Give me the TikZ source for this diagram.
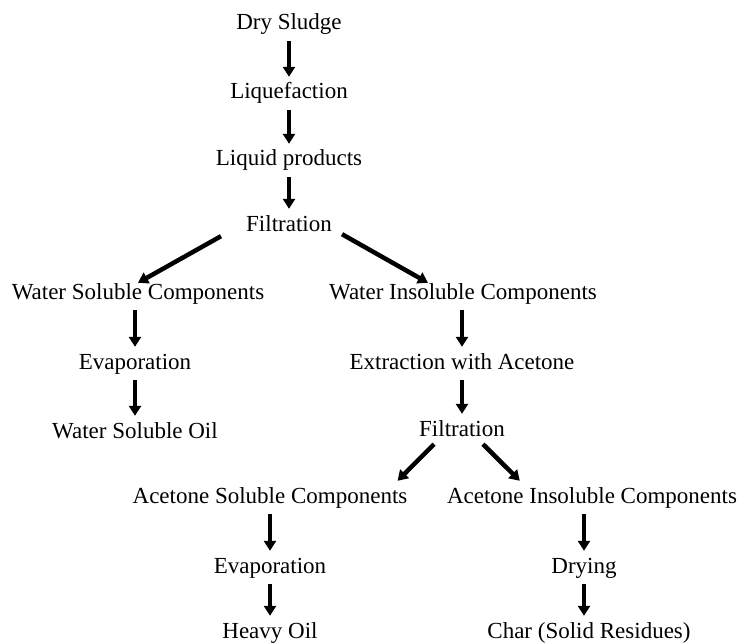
\documentclass[tikz,border=0pt]{standalone}
\usepackage{fontspec}
\setmainfont{Liberation Serif}
\usetikzlibrary{arrows.meta, positioning, calc}

\begin{document}
\begin{tikzpicture}[x=1pt, y=-1pt, >={Triangle[width=12pt,length=10pt]},
    stage/.style={anchor=base, inner sep=0pt, text height=16pt, text depth=5pt,
                  font=\fontsize{23}{27}\selectfont},
    flow/.style={->, line width=4.5pt, shorten <=6pt, shorten >=6pt},
    slant/.style={->, line width=4.5pt}]
        \useasboundingbox (0,0) rectangle (743,644);

        % Main line
        \node [stage] (sludge) at (289,30) {Dry Sludge};
        \node [stage] (liq) at (289,99) {Liquefaction};
        \node [stage] (prod) at (289,166) {Liquid products};
        \node [stage] (filt) at (289,231) {Filtration};

        % Water soluble branch
        \node [stage] (wsc) at (138,299) {Water Soluble Components};
        \node [stage] (evapA) at (135,369) {Evaporation};
        \node [stage] (oil) at (135,438) {Water Soluble Oil};

        % Water insoluble branch
        \node [stage] (wic) at (463,299) {Water Insoluble Components};
        \node [stage] (extr) at (462,369) {Extraction with Acetone};
        \node [stage] (filtB) at (462,436) {Filtration};

        % Acetone branches
        \node [stage] (asc) at (270,503) {Acetone Soluble Components};
        \node [stage] (evapB) at (270,573) {Evaporation};
        \node [stage] (heavy) at (270,638) {Heavy Oil};
        \node [stage] (aic) at (592,503) {Acetone Insoluble Components};
        \node [stage] (dry) at (584,573) {Drying};
        \node [stage] (charr) at (589,638) {Char (Solid Residues)};

        % Arrows
        \draw [flow] (liq.north |- sludge.south) -- (liq.north);
        \draw [flow] (prod.north |- liq.south) -- (prod.north);
        \draw [flow] (filt.north |- prod.south) -- (filt.north);
        \draw [slant] ([xshift=-25pt]filt.south west) -- (wsc.north);
        \draw [slant] ([xshift=10pt,yshift=2pt]filt.south east) -- ([xshift=-35pt]wic.north);
        \draw [flow] (evapA.north |- wsc.south) -- (evapA.north);
        \draw [flow] (oil.north |- evapA.south) -- (oil.north);
        \draw [flow] (extr.north |- wic.south) -- (extr.north);
        \draw [flow] (filtB.north |- extr.south) -- (filtB.north);
        \draw [slant] ([xshift=15pt,yshift=-3pt]filtB.south west) -- ([xshift=-10pt,yshift=6pt]asc.north east);
        \draw [slant] ([xshift=-22pt,yshift=-3pt]filtB.south east) -- ([xshift=73pt,yshift=6pt]aic.north west);
        \draw [flow] (evapB.north |- asc.south) -- (evapB.north);
        \draw [flow] (heavy.north |- evapB.south) -- (heavy.north);
        \draw [flow] (dry.north |- aic.south) -- (dry.north);
        \draw [flow] (dry.south) -- (dry.south |- charr.north);
    \end{tikzpicture}
\end{document}
